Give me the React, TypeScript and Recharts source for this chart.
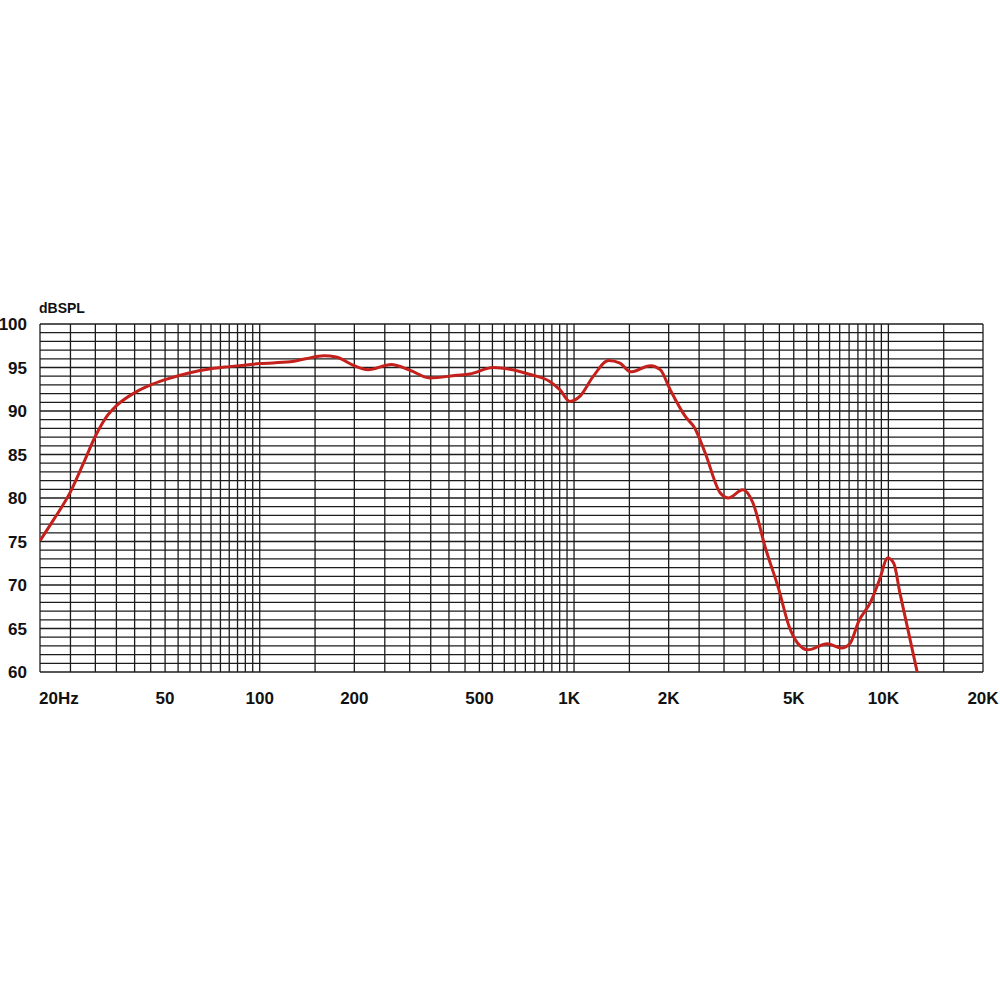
import { CartesianGrid, Line, LineChart, XAxis, YAxis } from "recharts";

// measured response, frequency (Hz) -> dB SPL
const freqs = [
  20, 22, 25, 27.5, 30, 32.5, 35, 40, 45, 50, 60, 70, 80, 100, 125, 140, 160, 175, 200, 221, 262, 300, 347,
  423, 466, 553, 625, 725, 837, 901, 970, 1045, 1152, 1287, 1400, 1511, 1751, 1880, 2022, 2256, 2425, 2612,
  2915, 3096, 3444, 3712, 4052, 4481, 4836, 5147, 5550, 6387, 7090, 7555, 8040, 8793, 9371, 9950, 10400,
  10880, 12350
];
const spl = [
  75.1, 77.4, 80.7, 84.0, 87.1, 89.3, 90.6, 92.1, 93.0, 93.6, 94.4, 94.85, 95.1, 95.45, 95.65, 96.0, 96.35,
  96.2, 95.2, 94.75, 95.35, 94.7, 93.8, 94.1, 94.25, 95.0, 94.8, 94.2, 93.4, 92.45, 91.1, 91.7, 94.0, 95.8,
  95.5, 94.5, 95.2, 94.75, 92.45, 89.4, 88.0, 85.2, 80.6, 80.0, 80.95, 79.4, 74.4, 69.5, 65.2, 63.3, 62.55,
  63.25, 62.75, 63.3, 65.8, 68.1, 70.6, 73.1, 72.5, 69.1, 60
];

const xGrid = [
  20, 25, 30, 35, 40, 45, 50, 55, 60, 65, 70, 75, 80, 85, 90, 95, 100,
  150, 200, 250, 300, 350, 400, 450, 500, 550, 600, 650, 700, 750, 800, 850, 900, 950, 1000,
  1500, 2000, 2500, 3000, 3500, 4000, 4500, 5000, 5500, 6000, 6500, 7000, 7500, 8000, 8500, 9000, 9500, 10000,
  15000, 20000
];
const xLabels: Record<number, string> = {
  20: "20Hz",
  50: "50",
  100: "100",
  200: "200",
  500: "500",
  1000: "1K",
  2000: "2K",
  5000: "5K",
  10000: "10K",
  20000: "20K"
};
const yLabels = [60, 65, 70, 75, 80, 85, 90, 95, 100];
const yGrid = Array.from({ length: 41 }, (_, i) => 60 + i);

const data = freqs.map((f, i) => ({ f, db: spl[i] }));

const font = "'Liberation Sans', Arial, Helvetica, sans-serif";

function XTick(props: any) {
  const { x, y, payload } = props;
  const label = xLabels[payload.value];
  if (!label) return <g />;
  const anchor = payload.value === 20 ? "start" : "middle";
  const dx = payload.value === 1000 || payload.value === 10000 ? -5 : 0;
  return (
    <text x={x + dx - (payload.value === 20 ? 1 : 0)} y={y + 24} textAnchor={anchor} fontFamily={font} fontWeight="bold" fontSize={17} fill="#111">
      {label}
    </text>
  );
}

function YTick(props: any) {
  const { x, y, payload } = props;
  if (!yLabels.includes(payload.value)) return <g />;
  return (
    <text x={x - 5} y={y + 6} textAnchor="end" fontFamily={font} fontWeight="bold" fontSize={17} fill="#111">
      {payload.value}
    </text>
  );
}

export default function App() {
  return (
    <div style={{ position: "absolute", left: 0, top: 0, width: 1000, height: 1000, background: "#fff" }}>
      <div
        style={{
          position: "absolute",
          left: 39,
          top: 300,
          fontFamily: font,
          fontWeight: "bold",
          fontSize: 14,
          color: "#111"
        }}
      >
        dBSPL
      </div>
      <LineChart width={1000} height={1000} data={data} margin={{ top: 324, right: 17, left: 0, bottom: 298 }}>
        <CartesianGrid stroke="#1c1c1c" strokeWidth={1.3} />
        <XAxis
          dataKey="f"
          type="number"
          scale="log"
          domain={[20, 20000]}
          ticks={xGrid}
          interval={0}
          tick={<XTick />}
          tickLine={false}
          axisLine={false}
          allowDataOverflow
          height={30}
        />
        <YAxis
          type="number"
          domain={[60, 100]}
          ticks={yGrid}
          interval={0}
          tick={<YTick />}
          tickLine={false}
          axisLine={false}
          width={40}
          allowDataOverflow
        />
        <Line
          type="monotone"
          dataKey="db"
          stroke="#c4201c"
          strokeWidth={3}
          dot={false}
          isAnimationActive={false}
        />
      </LineChart>
    </div>
  );
}
